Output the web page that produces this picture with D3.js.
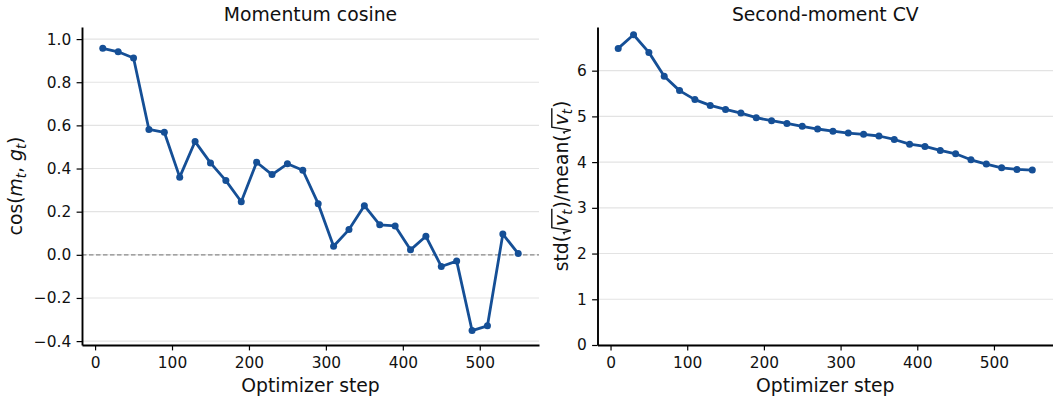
<!DOCTYPE html>
<html>
<head>
<meta charset="utf-8">
<script src="https://cdn.jsdelivr.net/npm/d3@7"></script>
<style>
  html, body { margin: 0; padding: 0; background: #fff; }
  svg { display: block; font-family: "DejaVu Sans", sans-serif; }
</style>
</head>
<body>
<svg id="chart" width="1053" height="396"></svg>
<script>
// ---------------- data ----------------
const steps = [10, 30, 50, 70, 90, 110, 130, 150, 170, 190, 210, 230, 250, 270,
               290, 310, 330, 350, 370, 390, 410, 430, 450, 470, 490, 510, 530, 550];
const momentumCosine = [0.957, 0.941, 0.912, 0.581, 0.568, 0.360, 0.525, 0.426, 0.344, 0.246,
                        0.429, 0.372, 0.422, 0.392, 0.237, 0.040, 0.117, 0.228, 0.139, 0.134,
                        0.023, 0.086, -0.054, -0.029, -0.351, -0.329, 0.096, 0.006];
const secondMomentCV = [6.487, 6.785, 6.400, 5.876, 5.564, 5.367, 5.240, 5.153, 5.073, 4.971,
                        4.905, 4.847, 4.782, 4.724, 4.676, 4.636, 4.607, 4.571, 4.495, 4.393,
                        4.342, 4.255, 4.182, 4.051, 3.956, 3.876, 3.840, 3.825];
const xTicks = [0, 100, 200, 300, 400, 500];
const leftYTicks = [-0.4, -0.2, 0.0, 0.2, 0.4, 0.6, 0.8, 1.0];
const rightYTicks = [0, 1, 2, 3, 4, 5, 6];
const titles = ["Momentum cosine", "Second-moment CV"];
const xLabel = "Optimizer step";

// ---------------- style ----------------
const lineColor = "#154f96";
const gridColor = "#e3e3e3";
const textColor = "#111";
const tickFont = 15.4;
const labelFont = 18.8;
const plotTop = 27, plotBottom = 345;

const svg = d3.select("#chart");

function panel(opts) {
  const g = svg.append("g");
  const x = d3.scaleLinear().domain([-17, 577]).range([opts.x0, opts.x1]);
  const y = d3.scaleLinear().domain(opts.yDomain).range([plotBottom, plotTop]);

  // grid
  g.append("g").selectAll("line").data(opts.yTicks).join("line")
    .attr("x1", opts.x0).attr("x2", opts.x1)
    .attr("y1", d => y(d)).attr("y2", d => y(d))
    .attr("stroke", gridColor).attr("stroke-width", 1.1);

  if (opts.zeroLine) {
    g.append("line")
      .attr("x1", opts.x0).attr("x2", opts.x1)
      .attr("y1", y(0)).attr("y2", y(0))
      .attr("stroke", "#8a8a8a").attr("stroke-width", 1.2)
      .attr("stroke-dasharray", "4.5,2.5");
  }

  // axes
  const xa = g.append("g").attr("transform", `translate(0,${plotBottom})`)
    .call(d3.axisBottom(x).tickValues(xTicks).tickSize(5.4).tickSizeOuter(0).tickPadding(6.6)
      .tickFormat(d3.format("d")));
  const ya = g.append("g").attr("transform", `translate(${opts.x0},0)`)
    .call(d3.axisLeft(y).tickValues(opts.yTicks).tickSize(5.4).tickSizeOuter(0).tickPadding(5.4)
      .tickFormat(opts.yFormat));
  [xa, ya].forEach(a => {
    a.attr("font-family", "DejaVu Sans").attr("font-size", tickFont);
    a.select(".domain").attr("stroke", "#000").attr("stroke-width", 1.9);
    a.selectAll(".tick line").attr("stroke", "#000").attr("stroke-width", 1.2);
    a.selectAll(".tick text").attr("fill", textColor);
  });

  // line + markers
  const pts = steps.map((s, i) => [s, opts.values[i]]);
  g.append("path").datum(pts)
    .attr("fill", "none").attr("stroke", lineColor).attr("stroke-width", 2.8)
    .attr("stroke-linejoin", "round")
    .attr("d", d3.line().x(d => x(d[0])).y(d => y(d[1])));
  g.append("g").selectAll("circle").data(pts).join("circle")
    .attr("cx", d => x(d[0])).attr("cy", d => y(d[1])).attr("r", 3.5)
    .attr("fill", lineColor);

  // title & x label
  g.append("text").attr("x", (opts.x0 + opts.x1) / 2).attr("y", 21)
    .attr("text-anchor", "middle").attr("font-size", labelFont).attr("fill", textColor)
    .text(opts.title);
  g.append("text").attr("x", (opts.x0 + opts.x1) / 2).attr("y", 392)
    .attr("text-anchor", "middle").attr("font-size", labelFont).attr("fill", textColor)
    .text(xLabel);
  return g;
}

const minus = s => s.replace("-", "\u2212");

panel({
  x0: 82, x1: 539, yDomain: [-0.418, 1.056], yTicks: leftYTicks,
  yFormat: d => minus(d3.format(".1f")(d)), values: momentumCosine,
  title: titles[0], zeroLine: true
});
panel({
  x0: 597.5, x1: 1053, yDomain: [0, 6.955], yTicks: rightYTicks,
  yFormat: d => d3.format("d")(d), values: secondMomentCV,
  title: titles[1], zeroLine: false
});

// ---------------- y labels with math-like formatting ----------------
const subSize = labelFont * 0.7;
const subShift = 4.2;

function mathLabel(cx, cy, parts, radicals) {
  const g = svg.append("g").attr("transform", `translate(${cx},${cy}) rotate(-90)`);
  const t = g.append("text").attr("text-anchor", "middle").attr("font-size", labelFont)
    .attr("fill", textColor);
  const spans = [];
  parts.forEach(p => {
    const s = t.append("tspan").text(p.t);
    if (p.it) s.attr("font-style", "italic");
    if (p.sub) s.attr("font-size", subSize).attr("dy", subShift);
    if (p.unsub) s.attr("dy", -subShift);
    if (p.dx) s.attr("dx", p.dx);
    spans.push(s);
  });
  // radical signs
  (radicals || []).forEach(r => {
    const a = spans[r[0]].node(), b = spans[r[1]].node();
    const xs = a.getStartPositionOfChar(0).x;
    const n = b.getNumberOfChars();
    const xe = b.getEndPositionOfChar(n - 1).x;
    const yTop = -16.2;
    g.append("path")
      .attr("d", `M${xs - 8.4},-3.4 L${xs - 6.8},-4.4 L${xs - 4.8},2.8 L${xs - 1.8},${yTop} L${xe + 0.8},${yTop}`)
      .attr("fill", "none").attr("stroke", textColor).attr("stroke-width", 1.4)
      .attr("stroke-linejoin", "miter");
  });
  return g;
}

mathLabel(22, 186, [
  { t: "cos(" }, { t: "m", it: true }, { t: "t", it: true, sub: true },
  { t: ", ", unsub: true }, { t: "g", it: true }, { t: "t", it: true, sub: true },
  { t: ")", unsub: true }
]);

mathLabel(568, 186, [
  { t: "std(" }, { t: "v", it: true, dx: 9 }, { t: "t", it: true, sub: true },
  { t: ")/mean(", unsub: true, dx: 1 }, { t: "v", it: true, dx: 9 }, { t: "t", it: true, sub: true },
  { t: ")", unsub: true, dx: 1 }
], [[1, 2], [4, 5]]);
</script>
</body>
</html>
